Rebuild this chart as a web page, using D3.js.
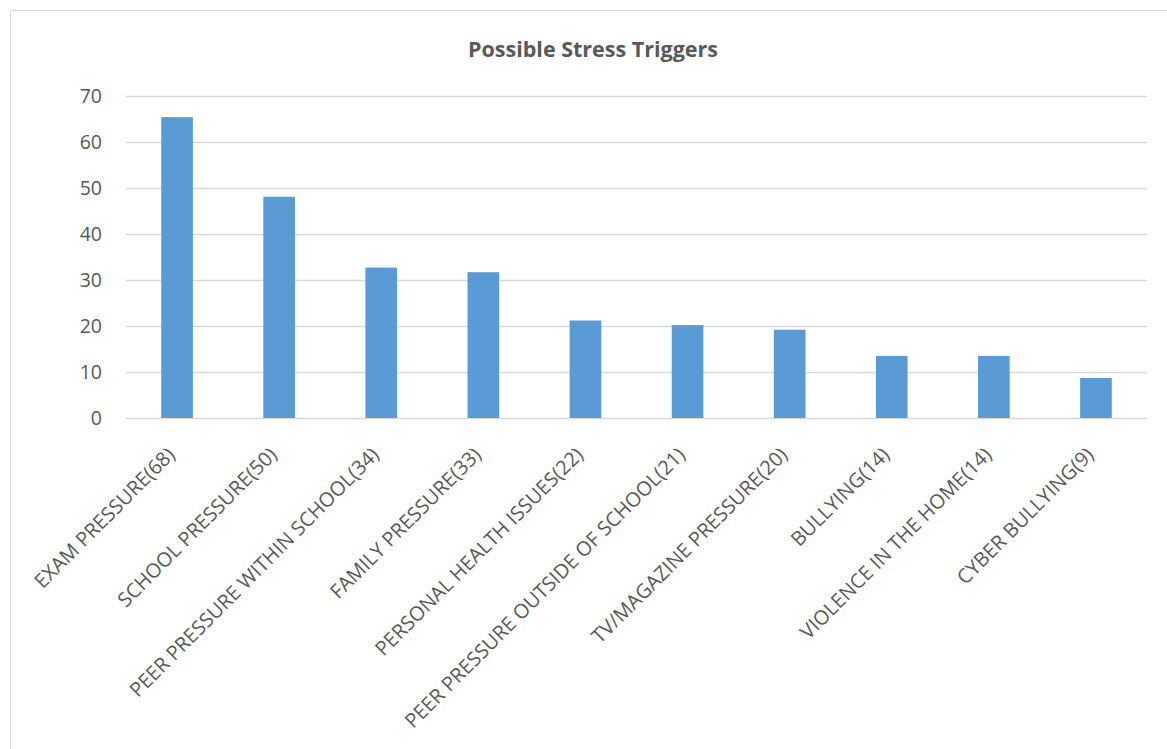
<!DOCTYPE html>
<html>
<head>
<meta charset="utf-8">
<script src="https://cdn.jsdelivr.net/npm/d3@7"></script>
<style>
  body { margin: 0; background: #fff; }
  text { font-family: 'Open Sans', sans-serif; fill: #595959; }
</style>
</head>
<body>
<div id="chart"></div>
<script>
const categories = [
  'EXAM PRESSURE(68)',
  'SCHOOL PRESSURE(50)',
  'PEER PRESSURE WITHIN SCHOOL(34)',
  'FAMILY PRESSURE(33)',
  'PERSONAL HEALTH ISSUES(22)',
  'PEER PRESSURE OUTSIDE OF SCHOOL(21)',
  'TV/MAGAZINE PRESSURE(20)',
  'BULLYING(14)',
  'VIOLENCE IN THE HOME(14)',
  'CYBER BULLYING(9)'
]
const values = [65.4, 48.1, 32.7, 31.7, 21.2, 20.2, 19.2, 13.5, 13.5, 8.7]
const yTicks = [0, 10, 20, 30, 40, 50, 60, 70]

const width = 1167
const height = 749
const margin = { top: 96, right: 20, bottom: 331, left: 126 }

const svg = d3.select('#chart')
  .append('svg')
  .attr('width', width)
  .attr('height', height)

// chart area border
svg.append('rect')
  .attr('x', 10.5)
  .attr('y', 10.5)
  .attr('width', width)
  .attr('height', height)
  .attr('fill', 'none')
  .attr('stroke', '#d9d9d9')

svg.append('text')
  .attr('x', 593)
  .attr('y', 57)
  .attr('text-anchor', 'middle')
  .style('font-size', '21.5px')
  .style('font-weight', 'bold')
  .text('Possible Stress Triggers')

const x = d3.scaleBand()
  .domain(categories)
  .range([margin.left, width - margin.right])
  .paddingInner(0.69)
  .paddingOuter(0.345)

const y = d3.scaleLinear()
  .domain([0, 70])
  .range([height - margin.bottom, margin.top])

// gridlines
svg.append('g')
  .selectAll('line')
  .data(yTicks)
  .join('line')
  .attr('x1', margin.left)
  .attr('x2', width - margin.right)
  .attr('y1', d => Math.round(y(d)) + 0.5)
  .attr('y2', d => Math.round(y(d)) + 0.5)
  .attr('stroke', '#d9d9d9')
  .attr('stroke-width', 1.5)

// y labels
svg.append('g')
  .selectAll('text')
  .data(yTicks)
  .join('text')
  .attr('x', 102)
  .attr('y', d => y(d))
  .attr('dy', '0.35em')
  .attr('text-anchor', 'end')
  .style('font-size', '19.5px')
  .text(d => d)

svg.append('g')
  .selectAll('rect')
  .data(values)
  .join('rect')
  .attr('x', (d, i) => x(categories[i]))
  .attr('width', x.bandwidth())
  .attr('y', d => y(d))
  .attr('height', d => y(0) - y(d))
  .attr('fill', '#5b9bd5')

// rotated category labels
svg.append('g')
  .selectAll('text')
  .data(categories)
  .join('text')
  .attr('text-anchor', 'end')
  .attr('transform', d => `translate(${x(d) + x.bandwidth() / 2 - 1},${y(0) + 38}) rotate(-45)`)
  .style('font-size', '20px')
  .text(d => d)
</script>
</body>
</html>
